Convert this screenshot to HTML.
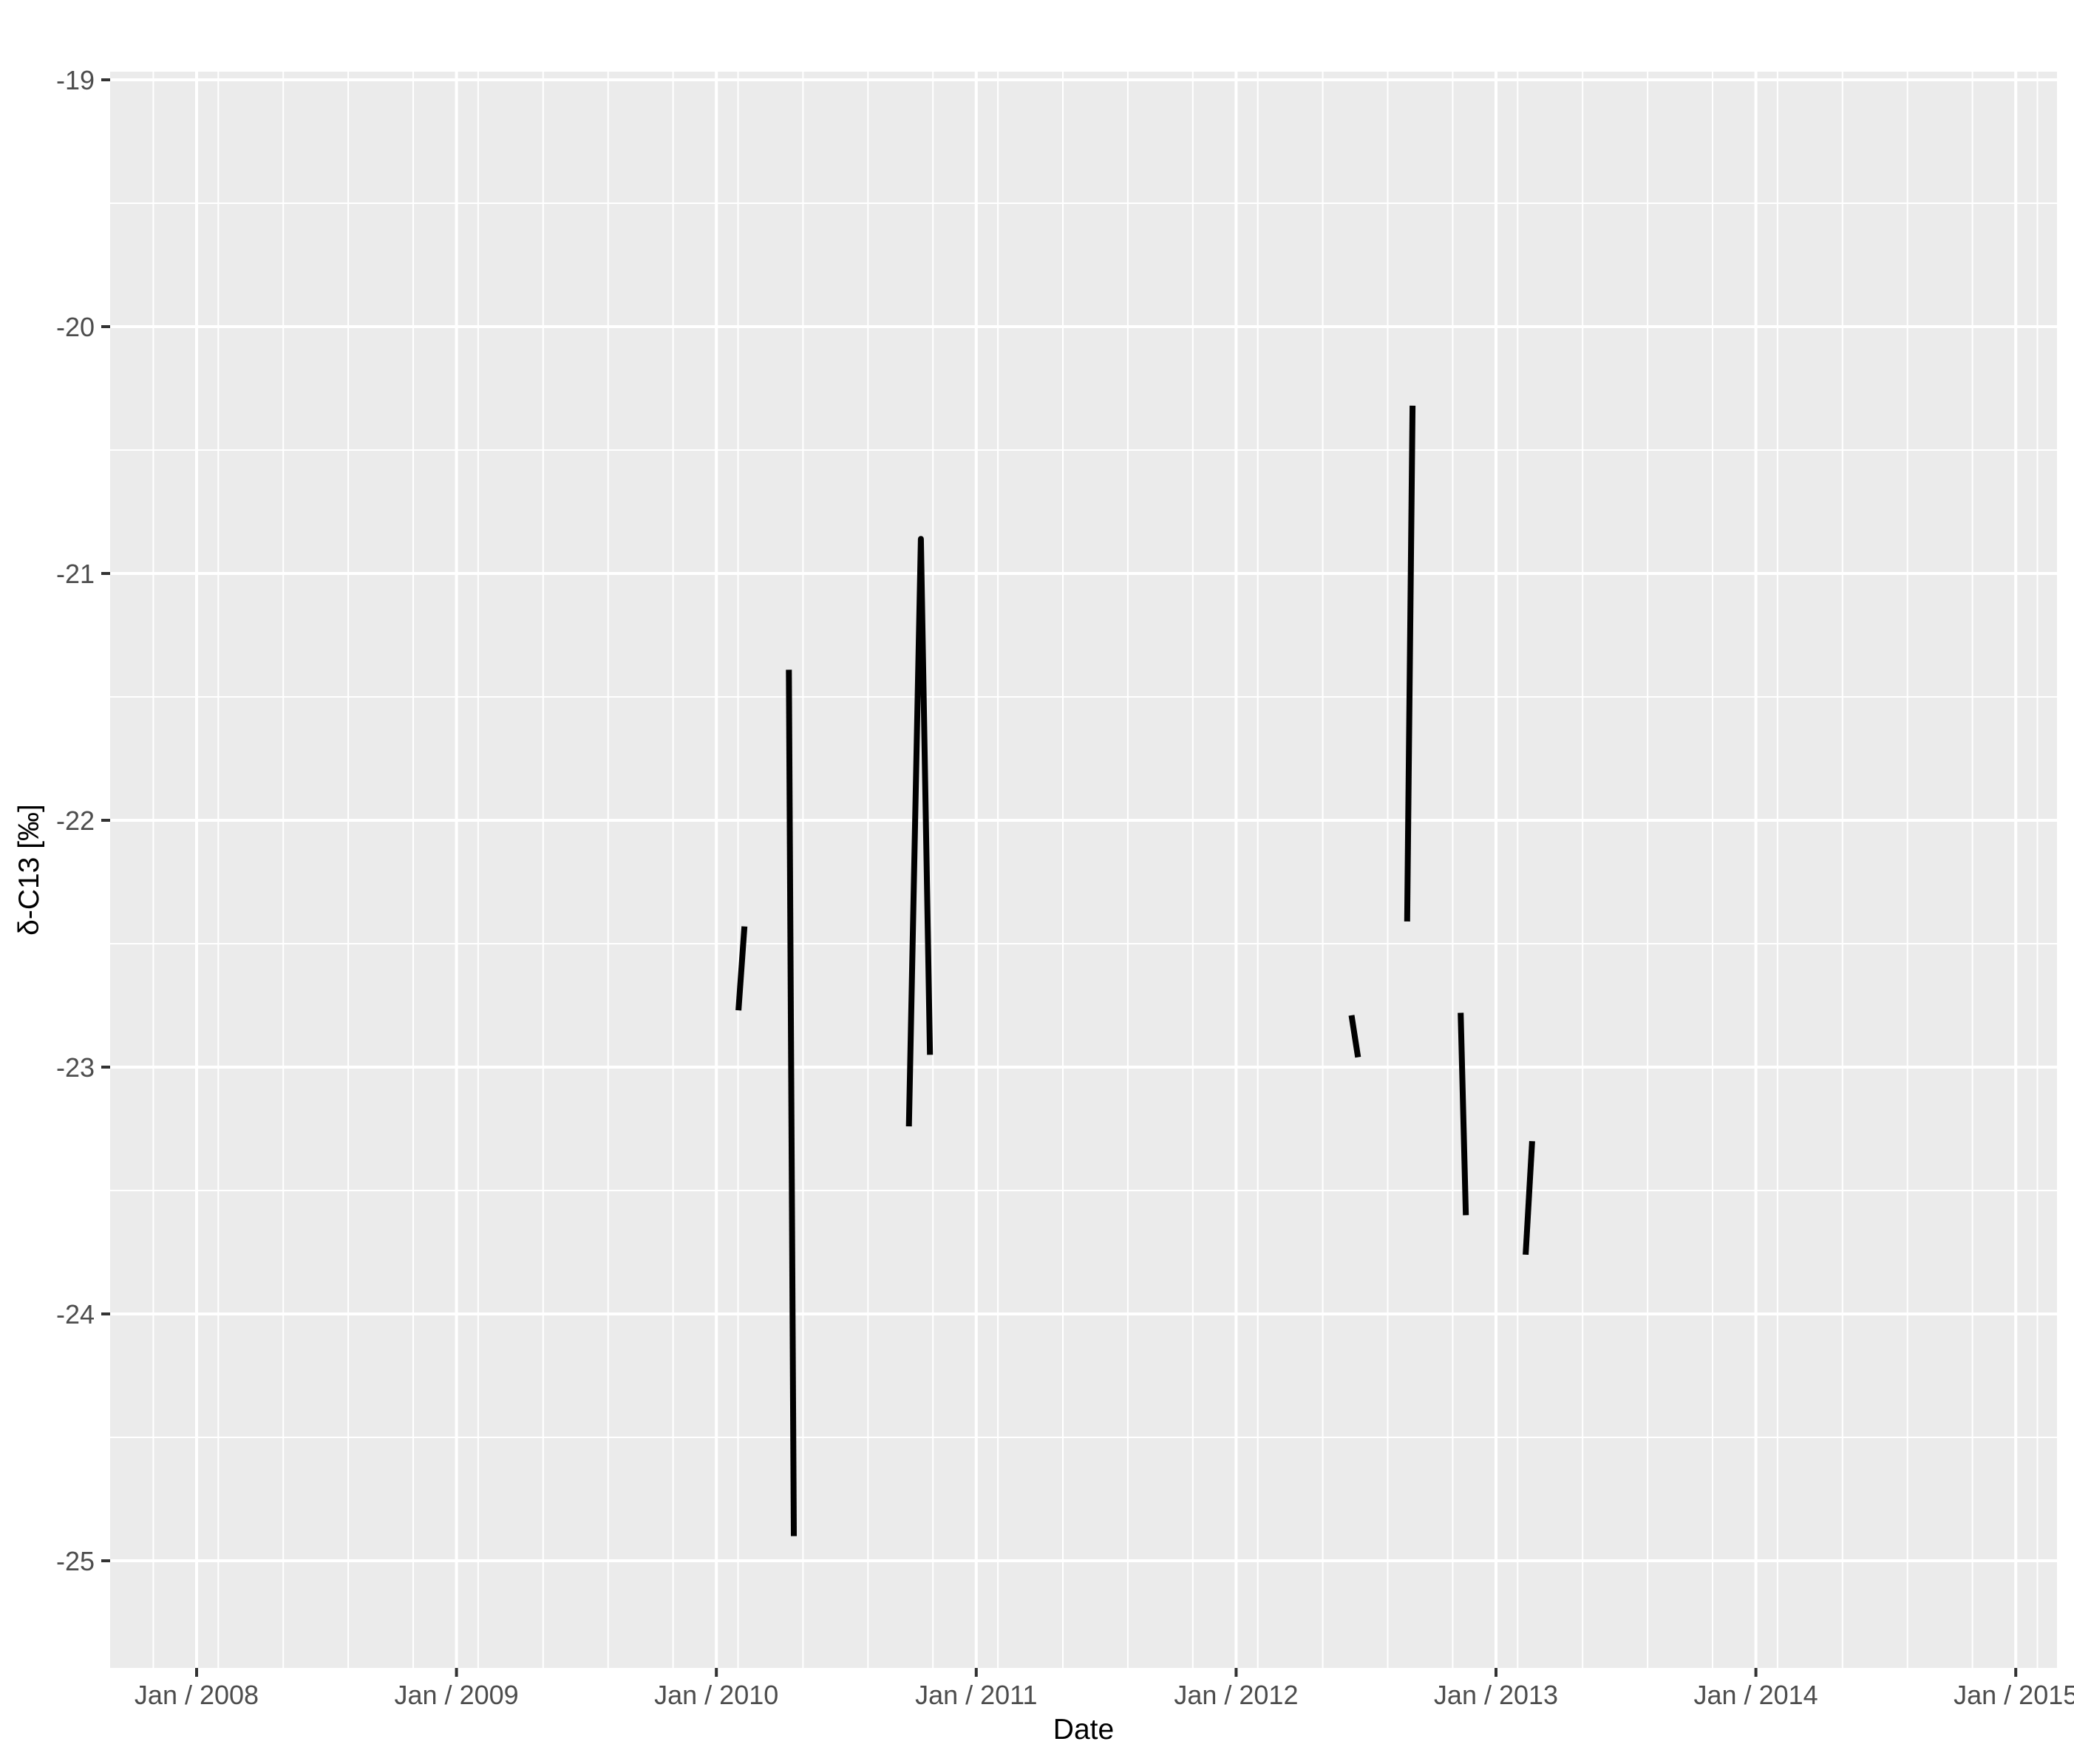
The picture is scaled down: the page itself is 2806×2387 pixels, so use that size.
<!DOCTYPE html>
<html><head><meta charset="utf-8"><style>
html,body{margin:0;padding:0;background:#fff;}
svg{display:block;font-family:"Liberation Sans",sans-serif;}
</style></head><body>
<svg id="chart" width="2806" height="2387" viewBox="0 0 2806 2387" xmlns="http://www.w3.org/2000/svg">
<rect x="149" y="97" width="2634" height="2160" fill="#ebebeb"/>
<g id="grid"></g>
<g id="axes"></g>
<g id="series"></g>
<text x="1466" y="2353" font-size="39" text-anchor="middle" fill="#000">Date</text>
<text transform="translate(52,1177) rotate(-90)" font-size="39" text-anchor="middle" fill="#000">δ-C13 [‰]</text>
</svg>
<script>
const yTicks = [-19, -20, -21, -22, -23, -24, -25];
const yTickLabels = ["-19", "-20", "-21", "-22", "-23", "-24", "-25"];
const xYears = [2008, 2009, 2010, 2011, 2012, 2013, 2014, 2015];
const xTickLabels = ["Jan / 2008","Jan / 2009","Jan / 2010","Jan / 2011","Jan / 2012","Jan / 2013","Jan / 2014","Jan / 2015"];
// segments: dates as decimal years, values in per mil
const segDates = [
  [2010.085, 2010.108],
  [2010.279, 2010.298],
  [2010.741, 2010.787, 2010.822],
  [2012.444, 2012.469],
  [2012.658, 2012.679],
  [2012.864, 2012.884],
  [2013.114, 2013.139]
];
const segValues = [
  [-22.77, -22.43],
  [-21.39, -24.90],
  [-23.24, -20.86, -22.95],
  [-22.79, -22.96],
  [-22.41, -20.32],
  [-22.78, -23.60],
  [-23.76, -23.30]
];

const NS = "http://www.w3.org/2000/svg";
const X0 = 149, X1 = 2783, Y0 = 97, Y1 = 2257;
function xScale(t){ return 266 + (t - 2008) * 351.6; }
function yScale(v){ return 108 + (-19 - v) * 334; }
function mk(tag, attrs, parent){
  const e = document.createElementNS(NS, tag);
  for (const k in attrs) e.setAttribute(k, attrs[k]);
  parent.appendChild(e);
  return e;
}
const grid = document.getElementById('grid');
const axes = document.getElementById('axes');
const series = document.getElementById('series');

for (let i = 0; i < yTicks.length; i++) {
  for (const d of [0.5, -0.5]) {
    const v = yTicks[i] + d;
    const y = yScale(v);
    if (y < Y0 || y > Y1) continue;
    const l = mk('line', {x1:X0, x2:X1, y1:y, y2:y, stroke:'#fff', 'stroke-width':2}, grid);
    
    
  }
}
for (let yr = 2007; yr <= 2015; yr++) {
  for (const m of [1, 4, 7, 10]) {
    const x = xScale(yr + m / 12);
    if (x < X0 || x > X1) continue;
    const l = mk('line', {x1:x, x2:x, y1:Y0, y2:Y1, stroke:'#fff', 'stroke-width':2}, grid);
    
    
  }
}
yTicks.forEach((v, i) => {
  const y = yScale(v);
  const l = mk('line', {x1:X0, x2:X1, y1:y, y2:y, stroke:'#fff', 'stroke-width':4}, grid);
  
  
  const t = mk('line', {x1:137, x2:X0, y1:y, y2:y, stroke:'#333', 'stroke-width':4}, axes);
  
  
  const tx = mk('text', {x:128, y:y + 13, 'font-size':36, 'text-anchor':'end', fill:'#4d4d4d'}, axes);
  tx.textContent = yTickLabels[i];
  
  
});
xYears.forEach((yr, i) => {
  const x = xScale(yr);
  const l = mk('line', {x1:x, x2:x, y1:Y0, y2:Y1, stroke:'#fff', 'stroke-width':4}, grid);
  
  
  const t = mk('line', {x1:x, x2:x, y1:Y1, y2:Y1 + 12, stroke:'#333', 'stroke-width':4}, axes);
  
  
  const tx = mk('text', {x:x, y:2306, 'font-size':36, 'text-anchor':'middle', fill:'#4d4d4d'}, axes);
  tx.textContent = xTickLabels[i];
  
  
});
segDates.forEach((ds, i) => {
  const pts = ds.map((d, j) => xScale(d).toFixed(1) + ',' + yScale(segValues[i][j]).toFixed(1)).join(' ');
  const p = mk('polyline', {points:pts, fill:'none', stroke:'#000', 'stroke-width':8, 'stroke-linejoin':'round', 'stroke-linecap':'butt'}, series);
  
  
});
</script>
</body></html>
